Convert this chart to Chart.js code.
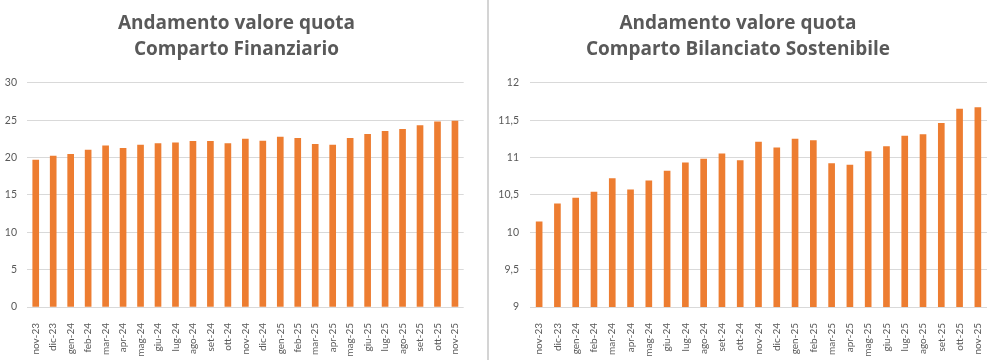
<!DOCTYPE html>
<html>
<head>
<meta charset="utf-8">
<script src="https://cdn.jsdelivr.net/npm/chart.js@4.4.1/dist/chart.umd.min.js"></script>
<style>
  html, body { margin: 0; padding: 0; background: #ffffff; width: 997px; height: 360px; overflow: hidden; }
  #wrap { position: relative; width: 997px; height: 360px; }
  #left { position: absolute; left: 0; top: 0; width: 475px; height: 360px; }
  #right { position: absolute; left: 489px; top: 0; width: 512px; height: 360px; }
  #sep { position: absolute; left: 487px; top: 0; width: 2px; height: 360px; background: #d4d4d4; }
</style>
</head>
<body>
<div id="wrap">
  <div id="left"><canvas id="c1" width="475" height="360"></canvas></div>
  <div id="sep"></div>
  <div id="right"><canvas id="c2" width="512" height="360"></canvas></div>
</div>
<script>
const categories = ['nov-23','dic-23','gen-24','feb-24','mar-24','apr-24','mag-24','giu-24','lug-24','ago-24','set-24','ott-24','nov-24','dic-24','gen-25','feb-25','mar-25','apr-25','mag-25','giu-25','lug-25','ago-25','set-25','ott-25','nov-25'];

const finanziarioValues = [19.69, 20.2, 20.45, 21.03, 21.6, 21.26, 21.7, 21.87, 22.0, 22.19, 22.19, 21.87, 22.5, 22.23, 22.77, 22.59, 21.79, 21.7, 22.59, 23.13, 23.53, 23.8, 24.28, 24.81, 24.9];

const bilanciatoValues = [10.14, 10.38, 10.46, 10.54, 10.72, 10.57, 10.69, 10.82, 10.93, 10.98, 11.05, 10.96, 11.21, 11.13, 11.25, 11.23, 10.92, 10.9, 11.08, 11.15, 11.29, 11.31, 11.46, 11.65, 11.67];

const finanziarioTitle = ['Andamento valore quota', 'Comparto Finanziario'];
const bilanciatoTitle = ['Andamento valore quota', 'Comparto Bilanciato Sostenibile'];

const finanziarioAxis = { min: 0, max: 30, step: 5 };
const bilanciatoAxis = { min: 9, max: 12, step: 0.5 };

const BAR = '#ED7D31';
const GRID = '#d9d9d9';
const TEXT = '#595959';

function makeChart(canvasId, title, values, axis, yWidth, tickPad, padRight) {
  return new Chart(document.getElementById(canvasId), {
    type: 'bar',
    data: {
      labels: categories,
      datasets: [{
        data: values,
        backgroundColor: BAR,
        borderWidth: 0,
        barThickness: 6
      }]
    },
    options: {
      responsive: false,
      animation: false,
      devicePixelRatio: 1,
      layout: { padding: { left: 0, right: padRight, top: 0, bottom: 0 } },
      plugins: {
        legend: { display: false },
        tooltip: { enabled: false },
        title: {
          display: true,
          text: title,
          color: TEXT,
          font: { family: "'Open Sans', sans-serif", size: 19, weight: 'bold', lineHeight: 1.368 },
          padding: { top: 11, bottom: 20 }
        }
      },
      scales: {
        x: {
          grid: { display: false },
          border: { display: false },
          ticks: {
            color: TEXT,
            font: { family: "Lato, 'Open Sans', sans-serif", size: 10 },
            minRotation: 90,
            maxRotation: 90,
            autoSkip: false,
            padding: 8
          },
          afterFit: function (s) { s.height = 53; }
        },
        y: {
          min: axis.min,
          max: axis.max,
          grid: { color: GRID, lineWidth: 1, drawTicks: false },
          border: { display: false },
          ticks: {
            stepSize: axis.step,
            color: TEXT,
            padding: tickPad,
            font: { family: "Lato, 'Open Sans', sans-serif", size: 10.5 },
            callback: function (v) { return String(v).replace('.', ','); }
          },
          afterFit: function (s) { s.width = yWidth; }
        }
      }
    }
  });
}

makeChart('c1', finanziarioTitle, finanziarioValues, finanziarioAxis, 27, 10, 2);
makeChart('c2', bilanciatoTitle, bilanciatoValues, bilanciatoAxis, 41, 11, 14);
</script>
</body>
</html>
